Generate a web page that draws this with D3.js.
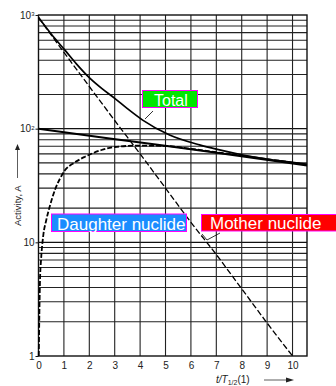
<!DOCTYPE html>
<html>
<head>
<meta charset="utf-8">
<script src="https://cdn.jsdelivr.net/npm/d3@7"></script>
<style>
  html, body { margin: 0; padding: 0; background: #fff; }
  svg { display: block; font-family: "Liberation Sans", Arial, sans-serif; }
</style>
</head>
<body>
<div id="chart"></div>
<script>
// values (t in units of T1/2(1), activity A)
const totalT = [0, 0.5, 1.04, 1.5, 2.03, 2.5, 3.0, 3.5, 4.1, 5.16, 6.34, 7.0, 8.0, 9.0, 10.0, 10.57]
const totalA = [950, 680, 491, 370, 277, 225, 185, 150, 119, 88, 72, 66, 59, 54, 50.5, 48.5]

const motherT = [0, 2.8, 6.8, 10.57]
const motherA = [100, 82, 62.4, 47.5]

const daughterT = [0.01, 0.06, 0.1, 0.19, 0.3, 0.45, 0.65, 0.85, 1.04, 1.4, 1.83, 2.48, 3.0, 4.0, 5.0, 6.0, 7.0, 8.0, 9.0, 10.0, 10.57]
const daughterA = [1, 4.7, 7, 11.6, 15.5, 21, 29, 36.5, 43, 50, 56.6, 64.9, 69, 71, 70.5, 66.5, 62, 57.8, 54, 50.3, 48.3]

const steepT = [0, 1, 2, 3, 4, 5, 6, 7, 8, 9, 10]
const steepA = [950, 470, 235, 118, 60, 30, 15, 7.8, 3.9, 1.95, 1]

const xTicks = [0, 1, 2, 3, 4, 5, 6, 7, 8, 9, 10]
const yTicks = [1, 10, 100, 1000]

const width = 336
const height = 386

const x = d3.scaleLinear().domain([0, 10.57]).range([38.5, 307])
const y = d3.scaleLog().domain([1, 1000]).range([356, 15])

const svg = d3.select("#chart")
  .append("svg")
  .attr("width", width)
  .attr("height", height)

// grid: minor log lines 2..9 per decade
const minor = []
for (const d of [1, 10, 100]) for (let k = 2; k <= 9; k++) minor.push(k * d)

svg.append("g")
  .selectAll("line")
  .data(minor)
  .join("line")
  .attr("x1", x(0)).attr("x2", x.range()[1])
  .attr("y1", d => y(d)).attr("y2", d => y(d))
  .attr("stroke", "#222")
  .attr("stroke-width", 1.1)

svg.append("g")
  .selectAll("line")
  .data(yTicks.slice(1, 3))
  .join("line")
  .attr("x1", x(0)).attr("x2", x.range()[1])
  .attr("y1", d => y(d)).attr("y2", d => y(d))
  .attr("stroke", "#111")
  .attr("stroke-width", 1.4)

svg.append("g")
  .selectAll("line")
  .data(xTicks.slice(1))
  .join("line")
  .attr("x1", d => x(d)).attr("x2", d => x(d))
  .attr("y1", y(1000)).attr("y2", y(1))
  .attr("stroke", "#222")
  .attr("stroke-width", 1.1)

// frame
svg.append("rect")
  .attr("x", x(0)).attr("y", y(1000))
  .attr("width", x.range()[1] - x(0))
  .attr("height", y(1) - y(1000))
  .attr("fill", "none")
  .attr("stroke", "#111")
  .attr("stroke-width", 1.4)

// axes
const xAxis = svg.append("g")
  .attr("transform", `translate(0,${y(1)})`)
  .call(d3.axisBottom(x).tickValues(xTicks).tickSize(0).tickPadding(6).tickFormat(d3.format("d")))
xAxis.select(".domain").remove()
xAxis.selectAll("text").attr("font-size", 10).attr("fill", "#222")

const yAxis = svg.append("g")
  .attr("transform", `translate(${x(0)},0)`)
  .call(d3.axisLeft(y).tickValues(yTicks).tickSize(3).tickPadding(2).tickFormat(() => ""))
yAxis.select(".domain").remove()
yAxis.selectAll("line").attr("stroke", "#111")

const yLab = yAxis.selectAll(".tick").append("text")
  .attr("x", -4)
  .attr("dy", "0.32em")
  .attr("text-anchor", "end")
  .attr("font-size", 10)
  .attr("fill", "#222")
yLab.text(d => d >= 100 ? "10" : String(d))
yLab.filter(d => d >= 100).append("tspan")
  .attr("dy", "-0.45em")
  .attr("font-size", 6)
  .text(d => d === 1000 ? "3" : "2")

// curves
const line = d3.line()
  .x(d => x(d[0]))
  .y(d => y(d[1]))
  .curve(d3.curveMonotoneX)

const zip = (a, b) => a.map((v, i) => [v, b[i]])

svg.append("path")
  .datum(zip(steepT, steepA))
  .attr("d", line)
  .attr("fill", "none")
  .attr("stroke", "#000")
  .attr("stroke-width", 1.3)
  .attr("stroke-dasharray", "6,2.5")

svg.append("path")
  .datum(zip(motherT, motherA))
  .attr("d", line)
  .attr("fill", "none")
  .attr("stroke", "#000")
  .attr("stroke-width", 2)

svg.append("path")
  .datum(zip(daughterT, daughterA))
  .attr("d", line)
  .attr("fill", "none")
  .attr("stroke", "#000")
  .attr("stroke-width", 1.8)
  .attr("stroke-dasharray", "5,2")

svg.append("path")
  .datum(zip(totalT, totalA))
  .attr("d", line)
  .attr("fill", "none")
  .attr("stroke", "#000")
  .attr("stroke-width", 1.7)

// leader lines
svg.append("line")
  .attr("x1", 153).attr("y1", 111).attr("x2", 145).attr("y2", 119)
  .attr("stroke", "#000").attr("stroke-width", 0.8)
svg.append("polyline")
  .attr("points", "202,234 207,240 220,233")
  .attr("fill", "none")
  .attr("stroke", "#000").attr("stroke-width", 0.8)

// labels
const labels = [
  { text: "Total", x: 142.5, y: 90.5, w: 55, h: 17, fill: "#00e600", tx: 154, size: 16 },
  { text: "Daughter nuclide", x: 51.5, y: 214, w: 135, h: 17.5, fill: "#1a8cff", tx: 57, size: 17 },
  { text: "Mother nuclide", x: 201.5, y: 214.5, w: 140, h: 16.5, fill: "#ff0000", tx: 210, size: 17 }
]

const lab = svg.append("g").selectAll("g").data(labels).join("g")
lab.append("rect")
  .attr("x", d => d.x).attr("y", d => d.y)
  .attr("width", d => d.w).attr("height", d => d.h)
  .attr("fill", d => d.fill)
  .attr("stroke", "#ff00ff")
  .attr("stroke-width", 1)
lab.append("text")
  .attr("x", d => d.tx)
  .attr("y", d => d.y + d.h - 2)
  .attr("font-size", d => d.size)
  .attr("fill", "#fff")
  .text(d => d.text)

// axis titles
const yt = svg.append("g").attr("transform", "translate(21,226) rotate(-90)")
yt.append("text")
  .attr("font-size", 9.5)
  .attr("fill", "#222")
  .text("Activity, A")
yt.append("line")
  .attr("x1", 48).attr("x2", 76).attr("y1", -3.5).attr("y2", -3.5)
  .attr("stroke", "#333").attr("stroke-width", 0.8)
yt.append("path")
  .attr("d", "M76,-6 L82,-3.5 L76,-1 Z")
  .attr("fill", "#222")

const xt = svg.append("text")
  .attr("x", 216).attr("y", 383)
  .attr("font-size", 10)
  .attr("fill", "#222")
xt.append("tspan").attr("font-style", "italic").text("t/T")
xt.append("tspan").attr("font-size", 7).attr("dy", 2).text("1/2")
xt.append("tspan").attr("dy", -2).text("(1)")
svg.append("line")
  .attr("x1", 264).attr("x2", 287).attr("y1", 380).attr("y2", 380)
  .attr("stroke", "#333").attr("stroke-width", 0.8)
svg.append("path")
  .attr("d", "M286,377.5 L294,380 L286,382.5 Z")
  .attr("fill", "#222")
</script>
</body>
</html>
